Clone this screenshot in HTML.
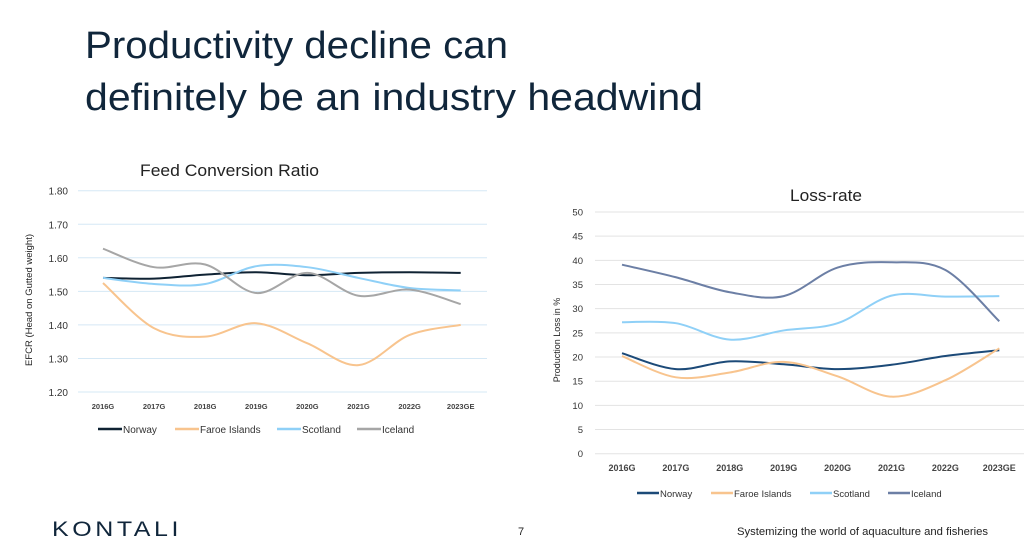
<!DOCTYPE html>
<html><head><meta charset="utf-8"><style>
html,body{margin:0;padding:0;background:#fff;}
svg{display:block;font-family:"Liberation Sans",sans-serif;}
</style></head><body>
<svg id="s" width="1024" height="556" viewBox="0 0 1024 556" xmlns="http://www.w3.org/2000/svg">
<text x="85" y="58" font-size="38" fill="#10263b" textLength="423" lengthAdjust="spacingAndGlyphs">Productivity decline can</text>
<text x="85" y="110" font-size="38" fill="#10263b" textLength="618" lengthAdjust="spacingAndGlyphs">definitely be an industry headwind</text>

<text x="140" y="176" font-size="17" fill="#222" textLength="179" lengthAdjust="spacingAndGlyphs">Feed Conversion Ratio</text>
<text x="790" y="201" font-size="17" fill="#222" textLength="72" lengthAdjust="spacingAndGlyphs">Loss-rate</text>

<g id="g"></g>

<text x="52" y="536" font-size="21" fill="#10263b" letter-spacing="3" textLength="130" lengthAdjust="spacingAndGlyphs">KONTALI</text>
<text x="518" y="535" font-size="11" fill="#222">7</text>
<text x="737" y="535" font-size="11" fill="#222" textLength="251" lengthAdjust="spacingAndGlyphs">Systemizing the world of aquaculture and fisheries</text>
</svg>
<script>
var g=document.getElementById('g'),h='';
function smooth(p){var d='M'+p[0][0]+','+p[0][1];for(var i=0;i<p.length-1;i++){var p0=p[i-1]||p[i],p1=p[i],p2=p[i+1],p3=p[i+2]||p2;var t=1/6;d+=' C'+(p1[0]+(p2[0]-p0[0])*t)+','+(p1[1]+(p2[1]-p0[1])*t)+' '+(p2[0]-(p3[0]-p1[0])*t)+','+(p2[1]-(p3[1]-p1[1])*t)+' '+p2[0]+','+p2[1];}return d;}
var cats=['2016G','2017G','2018G','2019G','2020G','2021G','2022G','2023GE'];
// left
var L={x0:78,x1:487,yt:190.7,yb:392,c0:103,dc:51.1,min:1.2,max:1.8};
for(var i=0;i<=6;i++){var v=1.2+i*0.1,y=L.yb-(L.yb-L.yt)*i/6;h+='<line x1="78" x2="487" y1="'+y+'" y2="'+y+'" stroke="#d5e8f5" stroke-width="1"/>';h+='<text x="68" y="'+(y+4)+'" font-size="10" text-anchor="end" fill="#333">'+v.toFixed(2)+'</text>';}
cats.forEach(function(c,i){h+='<text x="'+(L.c0+i*L.dc)+'" y="409" font-size="7.5" font-weight="bold" text-anchor="middle" fill="#444">'+c+'</text>';});
h+='<text transform="translate(32,300) rotate(-90)" font-size="9.5" text-anchor="middle" fill="#222">EFCR (Head on Gutted weight)</text>';
var ls=[['#0f2233',[1.54,1.538,1.55,1.557,1.548,1.555,1.557,1.555]],['#f8c48e',[1.525,1.39,1.365,1.405,1.345,1.28,1.37,1.40]],['#8fd0f7',[1.54,1.522,1.522,1.575,1.572,1.54,1.51,1.503]],['#a6a6a6',[1.627,1.572,1.58,1.495,1.555,1.487,1.505,1.462]]];
ls.forEach(function(s){var p=s[1].map(function(v,i){return [L.c0+i*L.dc,L.yb-(v-1.2)/0.6*(L.yb-L.yt)];});h+='<path d="'+smooth(p)+'" fill="none" stroke="'+s[0]+'" stroke-width="2"/>';});
var leg=[['Norway',98,122],['Faroe Islands',175,199],['Scotland',277,301],['Iceland',357,381]];
leg.forEach(function(l,i){h+='<line x1="'+l[1]+'" x2="'+l[2]+'" y1="429" y2="429" stroke="'+ls[i][0]+'" stroke-width="2.5"/><text x="'+(l[2]+1)+'" y="433" font-size="10" fill="#333">'+l[0]+'</text>';});
// right
var R={yt:212,yb:453.7,c0:622,dc:53.9};
for(var i=0;i<=10;i++){var y=R.yb-(R.yb-R.yt)*i/10;h+='<line x1="595" x2="1024" y1="'+y+'" y2="'+y+'" stroke="#e3e3e3" stroke-width="1"/>';h+='<text x="583" y="'+(y+3.5)+'" font-size="9.5" text-anchor="end" fill="#333">'+(i*5)+'</text>';}
cats.forEach(function(c,i){h+='<text x="'+(R.c0+i*R.dc)+'" y="471" font-size="9" font-weight="bold" text-anchor="middle" fill="#444">'+c+'</text>';});
h+='<text transform="translate(560,340) rotate(-90)" font-size="9" text-anchor="middle" fill="#222">Production Loss in %</text>';
var rs=[['#1c4a78',[20.8,17.5,19.1,18.5,17.5,18.4,20.2,21.4]],['#f8c48e',[20.2,15.8,16.8,19,16,11.8,15.2,21.8]],['#8fd0f7',[27.2,27,23.6,25.5,27,32.7,32.5,32.6]],['#6c7fa5',[39.1,36.5,33.4,32.6,38.5,39.6,38,27.4]]];
rs.forEach(function(s){var p=s[1].map(function(v,i){return [R.c0+i*R.dc,R.yb-v/50*(R.yb-R.yt)];});h+='<path d="'+smooth(p)+'" fill="none" stroke="'+s[0]+'" stroke-width="2"/>';});
var rl=[['Norway',637,659],['Faroe Islands',711,733],['Scotland',810,832],['Iceland',888,910]];
rl.forEach(function(l,i){h+='<line x1="'+l[1]+'" x2="'+l[2]+'" y1="493" y2="493" stroke="'+rs[i][0]+'" stroke-width="2.5"/><text x="'+(l[2]+1)+'" y="497" font-size="9.5" fill="#333">'+l[0]+'</text>';});
g.innerHTML=h;
</script>
</body></html>
